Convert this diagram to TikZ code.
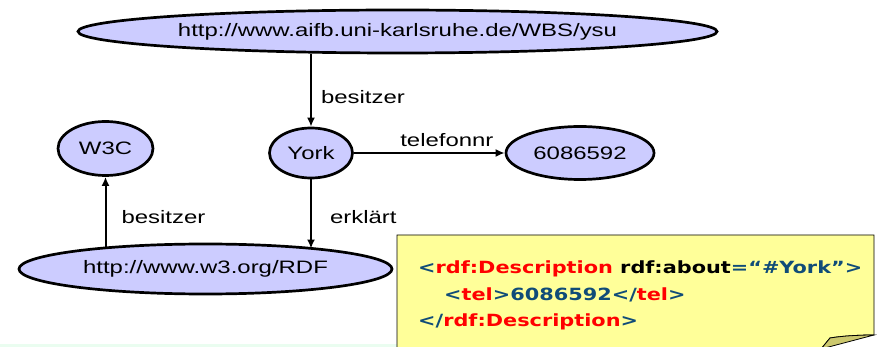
\documentclass[tikz,border=0pt]{standalone}
\usepackage{fontspec}
\setmainfont{Liberation Sans}[FakeStretch=1.33]
\newfontfamily\codefont{DejaVu Sans}[FakeStretch=1.24]
\usetikzlibrary{shapes.geometric,arrows.meta}
\definecolor{nodefill}{RGB}{204,204,255}
\definecolor{notefill}{RGB}{255,255,153}
\definecolor{foldfill}{RGB}{204,200,110}
\definecolor{mint}{RGB}{234,253,240}
\definecolor{codeblue}{RGB}{16,76,120}
\definecolor{codered}{RGB}{255,0,0}
\begin{document}
\begin{tikzpicture}[x=1pt,y=-1pt,
  res/.style={ellipse, draw=black, line width=2.7pt, fill=nodefill, inner sep=0pt,
    font=\fontsize{18}{20}\selectfont},
  arr/.style={-{Latex[length=9pt,width=8pt]}, line width=2pt},
  lbl/.style={font=\fontsize{18}{20}\selectfont, inner sep=0pt},
  codeline/.style={anchor=base west, inner sep=0pt,
    font=\codefont\bfseries\fontsize{16.8}{20}\selectfont},
  notebox/.style={draw=black, line width=0.8pt, fill=notefill},
  foldbox/.style={draw=black, line width=0.8pt, fill=foldfill}]
\useasboundingbox (0,0) rectangle (877,347);
\clip (0,0) rectangle (877,347);

\fill[mint] (0,344) rectangle (397,347);

% resources
\node[res, minimum width=639pt, minimum height=43pt] (top) at (397.5,31.5) {http://www.aifb.uni-karlsruhe.de/WBS/ysu};
\node[res, minimum width=83pt, minimum height=50pt] (york) at (311,153) {York};
\node[res, minimum width=95pt, minimum height=54pt] (w3c) at (105.5,148.5) {W3C};
\node[res, minimum width=148pt, minimum height=53pt] (tel) at (580,153) {6086592};
\node[res, minimum width=373pt, minimum height=50pt] (rdf) at (205.5,269) {http://www.w3.org/RDF};

% free ends of connectors on the ellipse borders
\coordinate (topfoot) at (311,54);
\coordinate (rdfw3c) at (105.5,248);
\coordinate (rdfyork) at (311,248.5);

% connectors
\draw[arr] (topfoot) -- (york) node[lbl, pos=0.59, right=9pt] (l1) {besitzer};
\draw[arr] (york) -- (tel) node[lbl, pos=0.617, above=5.5pt] (l2) {telefonnr};
\draw[arr] (rdfw3c) -- (w3c) node[lbl, pos=0.44, right=15pt] (l3) {besitzer};
\draw[arr] (york) -- (rdfyork) node[lbl, pos=0.54, right=18pt] (l4) {erklärt};

% note
\draw[notebox] (397,235) -- (874,235) -- (874,335)
  .. controls (858,335) and (842,336) .. (830,338) -- (821,349) -- (397,349) -- cycle;
\draw[foldbox] (830,338) .. controls (842,336) and (858,335) .. (874,335) -- (821,349) -- cycle;

\node[codeline] (c1) at (418,273) {\color{codeblue}<\color{codered}rdf:Description \color{black}rdf:about\color{codeblue}=“\#York”>};
\node[codeline] (c2) at (444,300) {\color{codeblue}<\color{codered}tel\color{codeblue}>6086592</\color{codered}tel\color{codeblue}>};
\node[codeline] (c3) at (418,326) {\color{codeblue}</\color{codered}rdf:Description\color{codeblue}>};
\end{tikzpicture}
\end{document}
